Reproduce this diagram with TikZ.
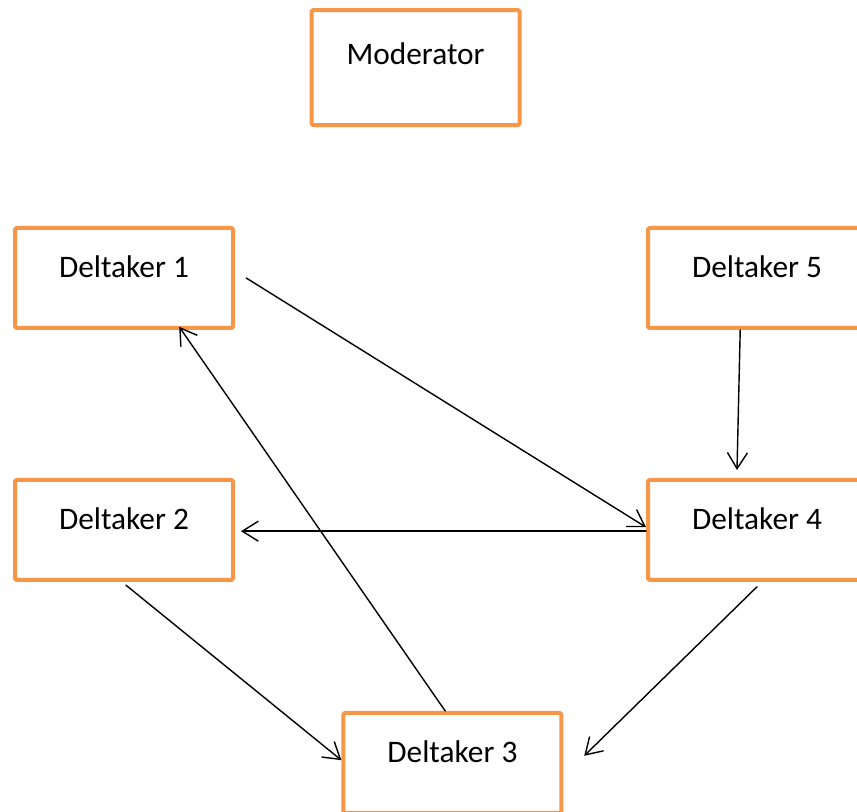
\documentclass[tikz,border=0pt]{standalone}
\usepackage{fontspec}
\setmainfont{Carlito}
\usetikzlibrary{arrows.meta}
\definecolor{boxorange}{HTML}{F79646}
\tikzset{
  deltbox/.style={draw=boxorange,line width=0.1cm,rounded corners=1pt,fill=white,
    inner sep=0pt,minimum width=5.45cm,text height=1.25cm,text depth=1.25cm,
    font=\fontsize{22.3}{26}\selectfont},
  modbox/.style={deltbox,minimum width=5.2cm,text height=1.35cm,text depth=1.525cm},
  pil/.style={line width=1pt,-{Straight Barb[length=0.4cm,width=0.5cm,line width=1pt]}}
}
\begin{document}
\begin{tikzpicture}[line cap=round,line join=round,x=1cm,y=1cm]
\useasboundingbox (0,0) rectangle (21.425,20.3);
\clip (0,0) rectangle (21.425,20.3);
% boxes
\node[modbox] (mod) at (10.39,18.61) {Moderator};
\node[deltbox] (d1) at (3.1,13.35) {Deltaker 1};
\node[deltbox] (d5) at (18.925,13.35) {Deltaker 5};
\node[deltbox] (d2) at (3.1,7.05) {Deltaker 2};
\node[deltbox] (d4) at (18.925,7.05) {Deltaker 4};
\node[deltbox] (d3) at (11.31,1.225) {Deltaker 3};
% arrows
\draw[pil] ([xshift=0.28cm]d1.east) -- ([yshift=0.07cm]d4.west);
\draw[pil] ([xshift=-0.42cm]d5.south) -- ([xshift=-0.5cm,yshift=0.2cm]d4.north);
\draw[pil] ([yshift=-0.03cm]d4.west) -- ([xshift=0.15cm,yshift=-0.03cm]d2.east);
\draw[pil] ([xshift=0.05cm,yshift=-0.08cm]d2.south) -- ([yshift=0.07cm]d3.west);
\draw[pil] ([xshift=-0.18cm]d3.north) -- ([xshift=1.38cm,yshift=0.08cm]d1.south);
\draw[pil] ([yshift=-0.12cm]d4.south) -- ([xshift=0.52cm,yshift=0.18cm]d3.east);
\end{tikzpicture}
\end{document}
